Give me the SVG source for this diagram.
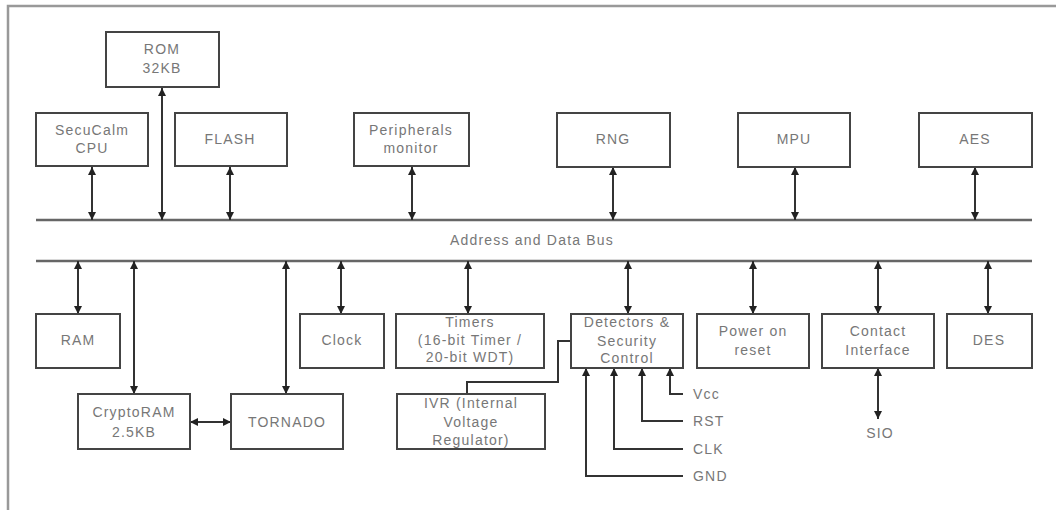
<svg xmlns="http://www.w3.org/2000/svg" width="1056" height="510" viewBox="0 0 1056 510">
<defs>
<marker id="ah" viewBox="0 0 8 8" refX="8" refY="4" markerWidth="8" markerHeight="8" markerUnits="userSpaceOnUse" orient="auto-start-reverse">
<path d="M0,0 L8,4 L0,8 z" fill="#222"/>
</marker>
<style>
.box{fill:#fff;stroke:#444;stroke-width:2}
.t{font-family:"Liberation Sans",Arial,sans-serif;font-size:14px;letter-spacing:1.2px;fill:#777;text-anchor:middle;dominant-baseline:central}
.tl{font-family:"Liberation Sans",Arial,sans-serif;font-size:14px;letter-spacing:1.2px;fill:#777;dominant-baseline:central}
.c{fill:none;stroke:#333;stroke-width:2}
.bi{marker-start:url(#ah);marker-end:url(#ah)}
.e{marker-end:url(#ah)}
.bus{stroke:#666;stroke-width:2.5}
</style>
</defs>
<rect width="1056" height="510" fill="#fff"/>
<path d="M8,510 V6 H1056" fill="none" stroke="#999" stroke-width="2.5"/>

<g id="connectors">
<line class="bus" x1="36" y1="220" x2="1032" y2="220"/>
<line class="bus" x1="36" y1="261" x2="1032" y2="261"/>
<line class="c bi" x1="92" y1="167" x2="92" y2="220"/>
<line class="c bi" x1="162" y1="88" x2="162" y2="220"/>
<line class="c bi" x1="230" y1="167" x2="230" y2="220"/>
<line class="c bi" x1="412" y1="167" x2="412" y2="220"/>
<line class="c bi" x1="613" y1="167" x2="613" y2="220"/>
<line class="c bi" x1="795" y1="167" x2="795" y2="220"/>
<line class="c bi" x1="975" y1="167" x2="975" y2="220"/>

<line class="c bi" x1="78" y1="261" x2="78" y2="314"/>
<line class="c bi" x1="134" y1="261" x2="134" y2="394"/>
<line class="c bi" x1="286" y1="261" x2="286" y2="394"/>
<line class="c bi" x1="341" y1="261" x2="341" y2="314"/>
<line class="c bi" x1="468" y1="261" x2="468" y2="314"/>
<line class="c bi" x1="628" y1="261" x2="628" y2="314"/>
<line class="c bi" x1="753" y1="261" x2="753" y2="314"/>
<line class="c bi" x1="878" y1="261" x2="878" y2="314"/>
<line class="c bi" x1="988" y1="261" x2="988" y2="314"/>
<line class="c bi" x1="190" y1="422" x2="231" y2="422"/>
<line class="c bi" x1="878" y1="368" x2="878" y2="419"/>

<path class="c" d="M467,394 V382 H558 V341 H571"/>
<path class="c e" d="M683,394 H670 V368"/>
<path class="c e" d="M683,421 H642 V368"/>
<path class="c e" d="M683,449 H614 V368"/>
<path class="c e" d="M683,476 H586 V368"/>
</g>

<text class="t" x="532" y="240">Address and Data Bus</text>

<g id="rom"><rect class="box" x="106" y="32" width="113" height="55"/><text class="t" x="162" y="49">ROM</text><text class="t" x="162" y="68">32KB</text></g>
<g id="cpu"><rect class="box" x="36" y="113" width="112" height="53"/><text class="t" x="92" y="130">SecuCalm</text><text class="t" x="92" y="148">CPU</text></g>
<g id="flash"><rect class="box" x="175" y="113" width="112" height="53"/><text class="t" x="230" y="139">FLASH</text></g>
<g id="periph"><rect class="box" x="354" y="113" width="115" height="53"/><text class="t" x="411" y="130">Peripherals</text><text class="t" x="411" y="148">monitor</text></g>
<g id="rng"><rect class="box" x="557" y="113" width="113" height="54"/><text class="t" x="613" y="139">RNG</text></g>
<g id="mpu"><rect class="box" x="738" y="113" width="112" height="54"/><text class="t" x="794" y="139">MPU</text></g>
<g id="aes"><rect class="box" x="919" y="113" width="113" height="54"/><text class="t" x="975" y="139">AES</text></g>

<g id="ram"><rect class="box" x="36" y="314" width="84" height="54"/><text class="t" x="78" y="340">RAM</text></g>
<g id="cryptoram"><rect class="box" x="78" y="394" width="112" height="55"/><text class="t" x="134" y="412">CryptoRAM</text><text class="t" x="134" y="432">2.5KB</text></g>
<g id="tornado"><rect class="box" x="231" y="394" width="112" height="55"/><text class="t" x="287" y="422">TORNADO</text></g>
<g id="clock"><rect class="box" x="300" y="314" width="84" height="54"/><text class="t" x="342" y="340">Clock</text></g>
<g id="timers"><rect class="box" x="396" y="314" width="148" height="54"/><text class="t" x="470" y="322">Timers</text><text class="t" x="470" y="340">(16-bit Timer /</text><text class="t" x="470" y="357">20-bit WDT)</text></g>
<g id="ivr"><rect class="box" x="397" y="394" width="148" height="55"/><text class="t" x="471" y="403">IVR (Internal</text><text class="t" x="471" y="422">Voltage</text><text class="t" x="471" y="440">Regulator)</text></g>
<g id="detectors"><rect class="box" x="571" y="314" width="112" height="54"/><text class="t" x="627" y="322">Detectors &amp;</text><text class="t" x="627" y="341">Security</text><text class="t" x="627" y="358">Control</text></g>
<g id="por"><rect class="box" x="697" y="314" width="112" height="54"/><text class="t" x="753" y="331">Power on</text><text class="t" x="753" y="350">reset</text></g>
<g id="contact"><rect class="box" x="822" y="314" width="112" height="54"/><text class="t" x="878" y="331">Contact</text><text class="t" x="878" y="350">Interface</text></g>
<g id="des"><rect class="box" x="947" y="314" width="85" height="54"/><text class="t" x="989" y="340">DES</text></g>

<g id="labels">
<text class="tl" x="693" y="394">Vcc</text>
<text class="tl" x="693" y="421">RST</text>
<text class="tl" x="693" y="449">CLK</text>
<text class="tl" x="693" y="476">GND</text>
<text class="t" x="880" y="433">SIO</text>
</g>
</svg>
